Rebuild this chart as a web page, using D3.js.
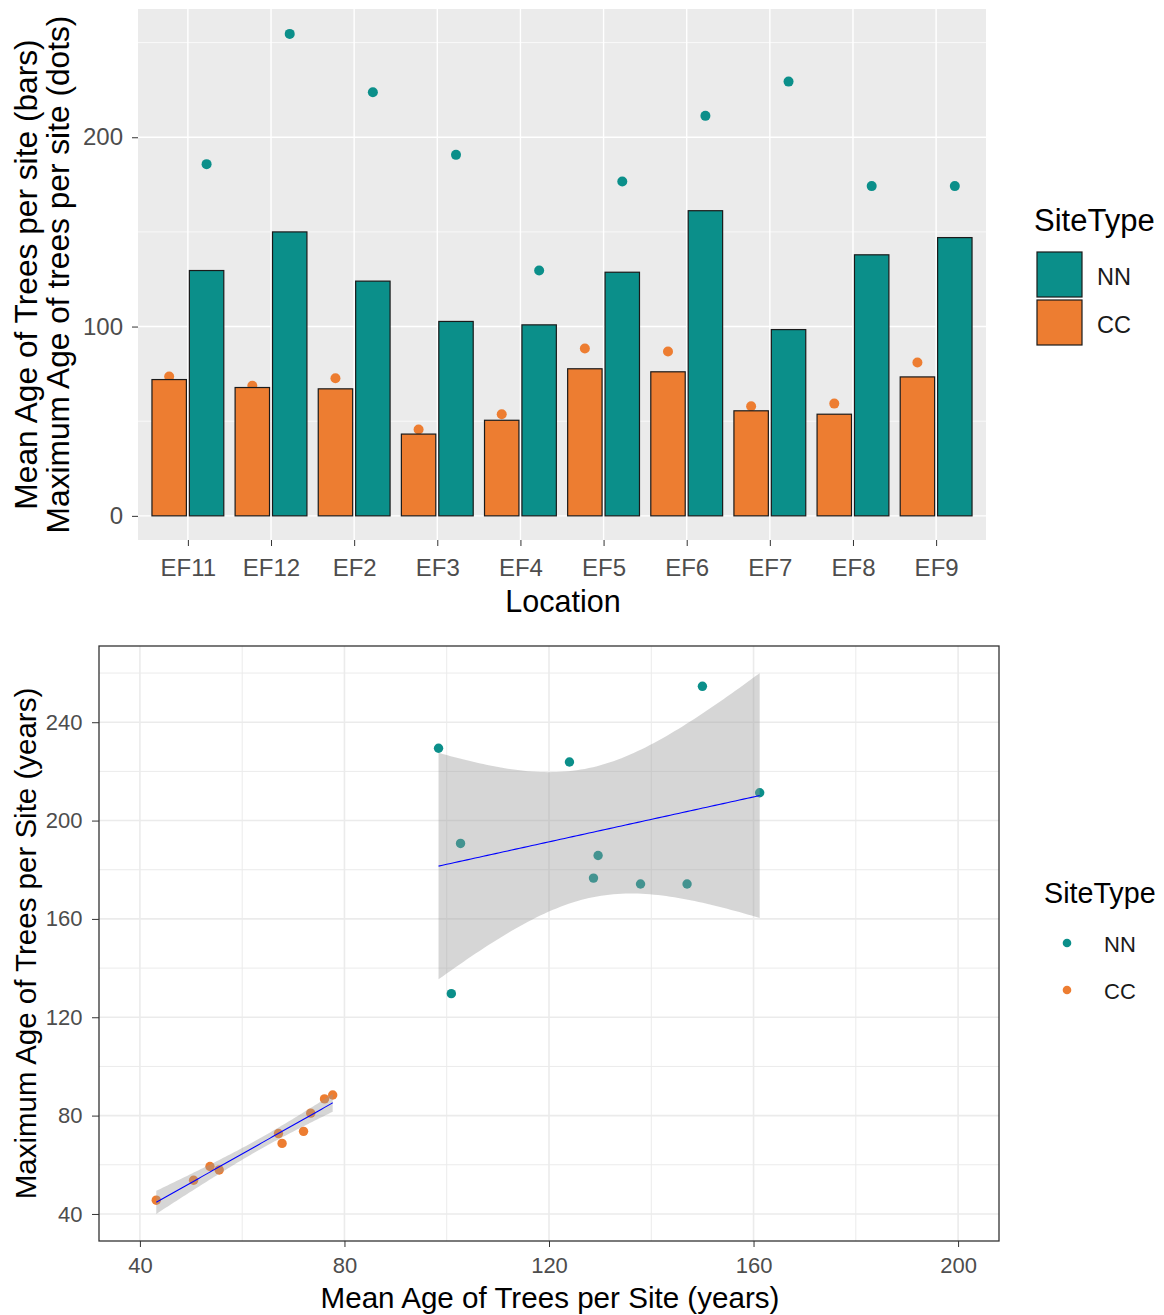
<!DOCTYPE html>
<html>
<head>
<meta charset="utf-8">
<script src="https://cdn.jsdelivr.net/npm/d3@7"></script>
<style>
  body { margin: 0; background: #fff; }
  text { font-family: "Liberation Sans", Arial, sans-serif; }
</style>
</head>
<body>
<svg id="chart" width="1164" height="1315"></svg>
<script>
const locations = ["EF11", "EF12", "EF2", "EF3", "EF4", "EF5", "EF6", "EF7", "EF8", "EF9"];
const meanNN = [129.6, 150.0, 124.0, 102.7, 100.9, 128.7, 161.2, 98.4, 137.9, 147.0];
const meanCC = [72.0, 67.8, 67.1, 43.2, 50.5, 77.7, 76.1, 55.5, 53.7, 73.4];
const maxNN = [185.8, 254.6, 223.8, 190.7, 129.6, 176.6, 211.3, 229.4, 174.2, 174.2];
const maxCC = [73.6, 68.7, 72.7, 45.6, 53.7, 88.4, 86.8, 57.9, 59.3, 81.0];
const siteTypes = ["NN", "CC"];
const yTicksTop = [0, 100, 200];
const xTicksBottom = [40, 80, 120, 160, 200];
const yTicksBottom = [40, 80, 120, 160, 200, 240];

const colors = { NN: "#0B8F8A", CC: "#ED7D31" };
const svg = d3.select("#chart");

// ---------- top: bars + dots ----------
const topG = svg.append("g");
const px0 = 138, px1 = 986, py0 = 9, py1 = 540;

const x = d3.scalePoint().domain(locations).range([px0, px1]).padding(0.6);
const step = x.step();
const y = d3.scaleLinear().domain([-12.75, 267.75]).range([py1, py0]);

const rows = locations.map((loc, i) => ({
  loc,
  NN: { mean: meanNN[i], max: maxNN[i] },
  CC: { mean: meanCC[i], max: maxCC[i] }
}));
const offset = { CC: -0.225, NN: 0.225 };

topG.append("rect")
  .attr("x", px0).attr("y", py0)
  .attr("width", px1 - px0).attr("height", py1 - py0)
  .attr("fill", "#EBEBEB");

topG.selectAll(".minor").data([50, 150, 250]).enter().append("line")
  .attr("x1", px0).attr("x2", px1)
  .attr("y1", d => y(d)).attr("y2", d => y(d))
  .attr("stroke", "#fff").attr("stroke-width", 0.7);
topG.selectAll(".hmaj").data(yTicksTop).enter().append("line")
  .attr("x1", px0).attr("x2", px1)
  .attr("y1", d => y(d)).attr("y2", d => y(d))
  .attr("stroke", "#fff").attr("stroke-width", 1.4);
topG.selectAll(".vmaj").data(locations).enter().append("line")
  .attr("x1", d => x(d)).attr("x2", d => x(d))
  .attr("y1", py0).attr("y2", py1)
  .attr("stroke", "#fff").attr("stroke-width", 1.4);

// dots sit under the bars
siteTypes.forEach(t => {
  topG.selectAll(".dot" + t).data(rows).enter().append("circle")
    .attr("cx", d => x(d.loc) + offset[t] * step)
    .attr("cy", d => y(d[t].max))
    .attr("r", 5)
    .attr("fill", colors[t]);
});

siteTypes.forEach(t => {
  topG.selectAll(".bar" + t).data(rows).enter().append("rect")
    .attr("x", d => x(d.loc) + offset[t] * step - 0.207 * step)
    .attr("width", 0.414 * step)
    .attr("y", d => y(d[t].mean))
    .attr("height", d => y(0) - y(d[t].mean))
    .attr("fill", colors[t])
    .attr("stroke", "#1a1a1a").attr("stroke-width", 1.2);
});

const topX = topG.append("g")
  .attr("transform", `translate(0,${py1})`)
  .call(d3.axisBottom(x).tickSize(6).tickPadding(13));
const topY = topG.append("g")
  .attr("transform", `translate(${px0},0)`)
  .call(d3.axisLeft(y).tickValues(yTicksTop).tickSize(6).tickPadding(9));
[topX, topY].forEach(a => {
  a.select(".domain").remove();
  a.selectAll(".tick line").attr("stroke", "#333");
  a.selectAll(".tick text").attr("fill", "#4D4D4D").style("font-size", "24px");
});

topG.append("text")
  .attr("x", (px0 + px1) / 2 + 1).attr("y", 612)
  .attr("text-anchor", "middle").style("font-size", "30.5px")
  .text("Location");
topG.append("text")
  .attr("transform", `translate(37,${(py0 + py1) / 2}) rotate(-90)`)
  .attr("text-anchor", "middle").style("font-size", "31.7px")
  .text("Mean Age of Trees per site (bars)");
topG.append("text")
  .attr("transform", `translate(69,${(py0 + py1) / 2}) rotate(-90)`)
  .attr("text-anchor", "middle").style("font-size", "31.7px")
  .text("Maximum Age of trees per site (dots)");

const legTop = topG.append("g");
legTop.append("text").attr("x", 1034).attr("y", 231)
  .style("font-size", "31px").text("SiteType");
siteTypes.forEach((t, i) => {
  legTop.append("rect")
    .attr("x", 1037).attr("y", 252 + i * 48)
    .attr("width", 45).attr("height", 45)
    .attr("fill", colors[t]).attr("stroke", "#1a1a1a").attr("stroke-width", 1.2);
  legTop.append("text")
    .attr("x", 1097).attr("y", 285 + i * 48)
    .style("font-size", "23.5px").attr("fill", "#1a1a1a")
    .text(t);
});

// ---------- bottom: mean vs max scatter with lm fits ----------
const bot = svg.append("g");
const bx0 = 99, bx1 = 999, by0 = 646, by1 = 1241;
const sx = d3.scaleLinear().domain([32, 208]).range([bx0, bx1]);
const sy = d3.scaleLinear().domain([29, 271]).range([by1, by0]);

bot.append("rect")
  .attr("x", bx0).attr("y", by0)
  .attr("width", bx1 - bx0).attr("height", by1 - by0)
  .attr("fill", "#fff");

const grid = "#EBEBEB";
bot.selectAll(".xmin").data([60, 100, 140, 180]).enter().append("line")
  .attr("x1", d => sx(d)).attr("x2", d => sx(d))
  .attr("y1", by0).attr("y2", by1)
  .attr("stroke", grid).attr("stroke-width", 1);
bot.selectAll(".ymin").data([60, 100, 140, 180, 220, 260]).enter().append("line")
  .attr("x1", bx0).attr("x2", bx1)
  .attr("y1", d => sy(d)).attr("y2", d => sy(d))
  .attr("stroke", grid).attr("stroke-width", 1);
bot.selectAll(".xmaj").data(xTicksBottom).enter().append("line")
  .attr("x1", d => sx(d)).attr("x2", d => sx(d))
  .attr("y1", by0).attr("y2", by1)
  .attr("stroke", grid).attr("stroke-width", 1.6);
bot.selectAll(".ymaj").data(yTicksBottom).enter().append("line")
  .attr("x1", bx0).attr("x2", bx1)
  .attr("y1", d => sy(d)).attr("y2", d => sy(d))
  .attr("stroke", grid).attr("stroke-width", 1.6);

const pts = siteTypes.map(t => ({
  type: t,
  values: t === "NN"
    ? meanNN.map((m, i) => ({ x: m, y: maxNN[i] }))
    : meanCC.map((m, i) => ({ x: m, y: maxCC[i] }))
}));

pts.forEach(g => {
  bot.selectAll(".pt" + g.type).data(g.values).enter().append("circle")
    .attr("cx", d => sx(d.x)).attr("cy", d => sy(d.y))
    .attr("r", 4.7)
    .attr("fill", colors[g.type]);
});

// lm fit with 95% confidence band, like geom_smooth(method = "lm")
function lmBand(vals) {
  const n = vals.length;
  const mx = d3.mean(vals, d => d.x), my = d3.mean(vals, d => d.y);
  const sxx = d3.sum(vals, d => (d.x - mx) ** 2);
  const sxy = d3.sum(vals, d => (d.x - mx) * (d.y - my));
  const b = sxy / sxx, a = my - b * mx;
  const rss = d3.sum(vals, d => (d.y - a - b * d.x) ** 2);
  const s = Math.sqrt(rss / (n - 2));
  const t = 2.306; // qt(0.975, 8)
  const [lo, hi] = d3.extent(vals, d => d.x);
  return d3.range(80).map(i => {
    const xv = lo + (hi - lo) * i / 79;
    const fit = a + b * xv;
    const se = s * Math.sqrt(1 / n + (xv - mx) ** 2 / sxx);
    return { x: xv, fit, lo: fit - t * se, hi: fit + t * se };
  });
}

pts.forEach(g => {
  const band = lmBand(g.values);
  bot.append("path").datum(band)
    .attr("d", d3.area().x(d => sx(d.x)).y0(d => sy(d.lo)).y1(d => sy(d.hi)))
    .attr("fill", "#999999").attr("fill-opacity", 0.4);
  bot.append("path").datum(band)
    .attr("d", d3.line().x(d => sx(d.x)).y(d => sy(d.fit)))
    .attr("fill", "none").attr("stroke", "blue").attr("stroke-width", 1.1);
});

bot.append("rect")
  .attr("x", bx0).attr("y", by0)
  .attr("width", bx1 - bx0).attr("height", by1 - by0)
  .attr("fill", "none").attr("stroke", "#333").attr("stroke-width", 1.3);

const botX = bot.append("g")
  .attr("transform", `translate(0,${by1})`)
  .call(d3.axisBottom(sx).tickValues(xTicksBottom).tickSize(6).tickPadding(10.5));
const botY = bot.append("g")
  .attr("transform", `translate(${bx0},0)`)
  .call(d3.axisLeft(sy).tickValues(yTicksBottom).tickSize(7).tickPadding(9.5));
[botX, botY].forEach(a => {
  a.select(".domain").remove();
  a.selectAll(".tick line").attr("stroke", "#333");
  a.selectAll(".tick text").attr("fill", "#4D4D4D").style("font-size", "22px");
});

bot.append("text")
  .attr("x", (bx0 + bx1) / 2 + 1).attr("y", 1308)
  .attr("text-anchor", "middle").style("font-size", "29.6px")
  .text("Mean Age of Trees per Site (years)");
bot.append("text")
  .attr("transform", `translate(36,${(by0 + by1) / 2}) rotate(-90)`)
  .attr("text-anchor", "middle").style("font-size", "29.5px")
  .text("Maximum Age of Trees per Site (years)");

const legBot = bot.append("g");
legBot.append("text").attr("x", 1044).attr("y", 903)
  .style("font-size", "28.7px").text("SiteType");
siteTypes.forEach((t, i) => {
  legBot.append("circle")
    .attr("cx", 1067).attr("cy", 943 + i * 47)
    .attr("r", 4.3).attr("fill", colors[t]);
  legBot.append("text")
    .attr("x", 1104).attr("y", 952 + i * 47)
    .style("font-size", "22px").attr("fill", "#1a1a1a")
    .text(t);
});
</script>
</body>
</html>
